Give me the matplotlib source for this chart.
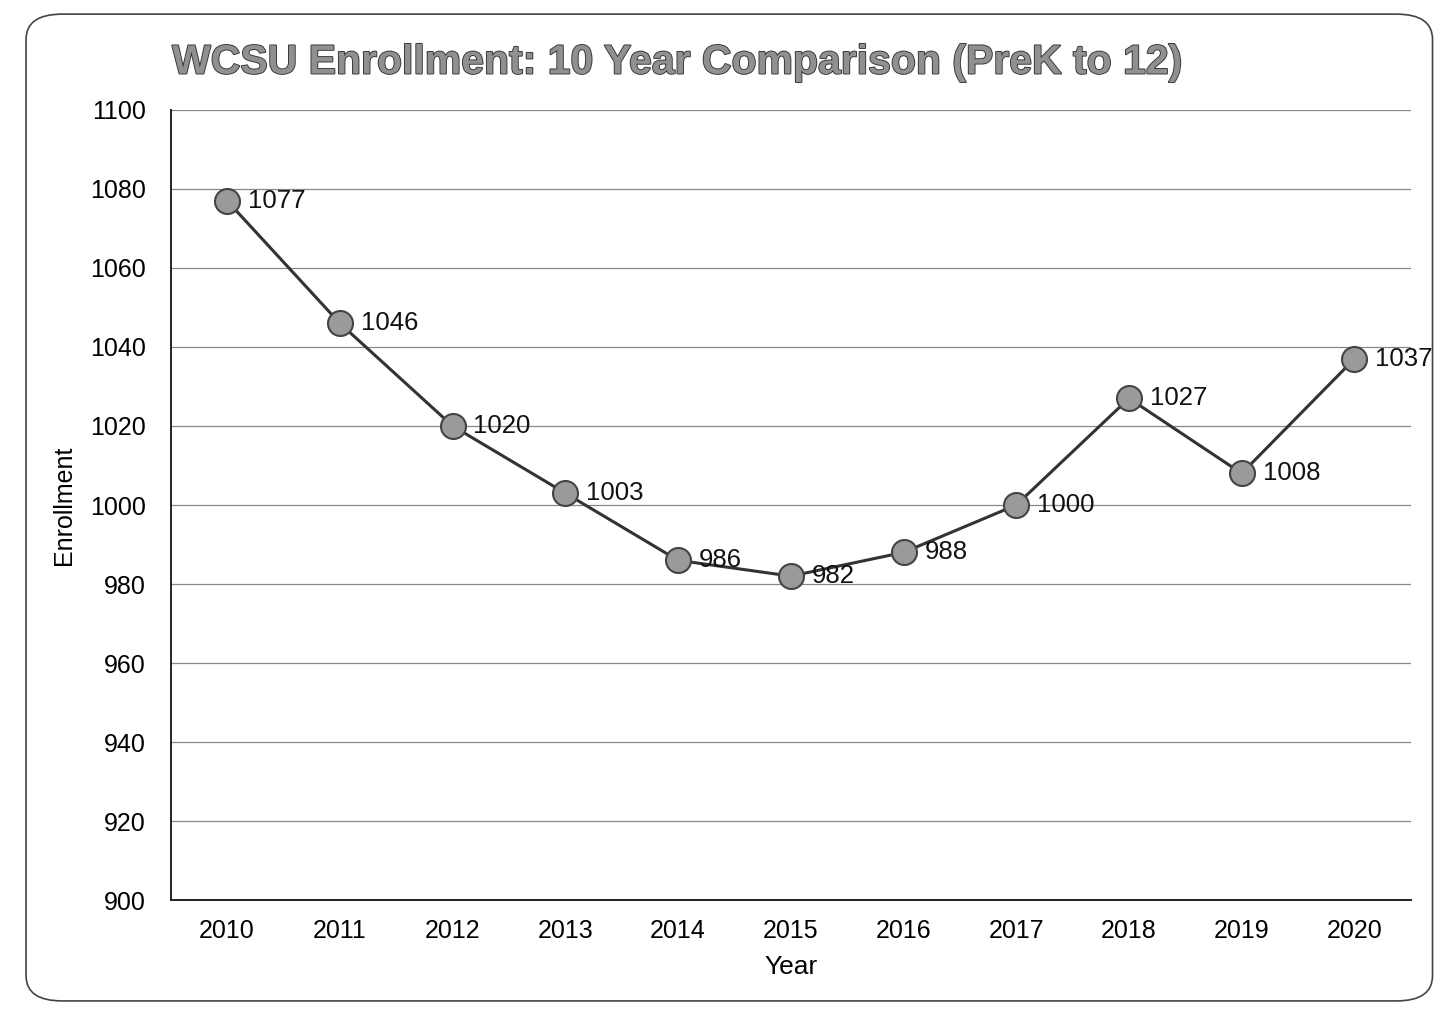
import matplotlib.pyplot as plt
import matplotlib.patheffects as pe
from matplotlib.patches import FancyBboxPatch

years = ["2010", "2011", "2012", "2013", "2014", "2015", "2016", "2017", "2018", "2019", "2020"]
enrollment = [1077, 1046, 1020, 1003, 986, 982, 988, 1000, 1027, 1008, 1037]
y_ticks = [900, 920, 940, 960, 980, 1000, 1020, 1040, 1060, 1080, 1100]

plt.rcParams["font.family"] = ["Liberation Sans", "DejaVu Sans"]

fig = plt.figure(figsize=(14.47, 10.09), dpi=100)

# rounded chart border
box = FancyBboxPatch((0.018, 0.008), 0.972, 0.978, boxstyle="round,pad=0,rounding_size=0.025",
                     transform=fig.transFigure, facecolor="none", edgecolor="#444444",
                     linewidth=1.2, zorder=-1)
fig.patches.append(box)

ax = fig.add_axes([0.118, 0.108, 0.857, 0.783])
ax.set_facecolor("none")

x = list(range(len(years)))
ax.plot(x, enrollment, color="#333333", linewidth=2.2, marker="o", markersize=18,
        markerfacecolor="#9a9a9a", markeredgecolor="#444444", markeredgewidth=1.5, zorder=3)

for i, v in enumerate(enrollment):
    ax.annotate(str(v), (i, v), xytext=(15, 0), textcoords="offset points",
                ha="left", va="center", fontsize=18.5, color="#111111")

ax.set_xlim(-0.5, len(years) - 0.5)
ax.set_ylim(900, 1100)
ax.set_yticks(y_ticks)
ax.set_xticks(x)
ax.set_xticklabels(years)
ax.tick_params(axis="both", length=0, labelsize=18)
ax.tick_params(axis="y", pad=18)
ax.tick_params(axis="x", pad=14)
ax.grid(axis="y", color="#888888", linewidth=0.9)
ax.set_axisbelow(True)
for s in ["top", "right"]:
    ax.spines[s].set_visible(False)
for s in ["left", "bottom"]:
    ax.spines[s].set_color("#222222")
    ax.spines[s].set_linewidth(1.4)

ax.set_xlabel("Year", fontsize=19, labelpad=8)
ax.set_ylabel("Enrollment", fontsize=18, labelpad=10)

fig.text(0.468, 0.938, "WCSU Enrollment: 10 Year Comparison (PreK to 12)", ha="center", va="center",
         fontsize=29.5, fontweight="bold", color="#909090",
         path_effects=[pe.withStroke(linewidth=1.3, foreground="#333333")])

fig.savefig("out.png", dpi=100)
